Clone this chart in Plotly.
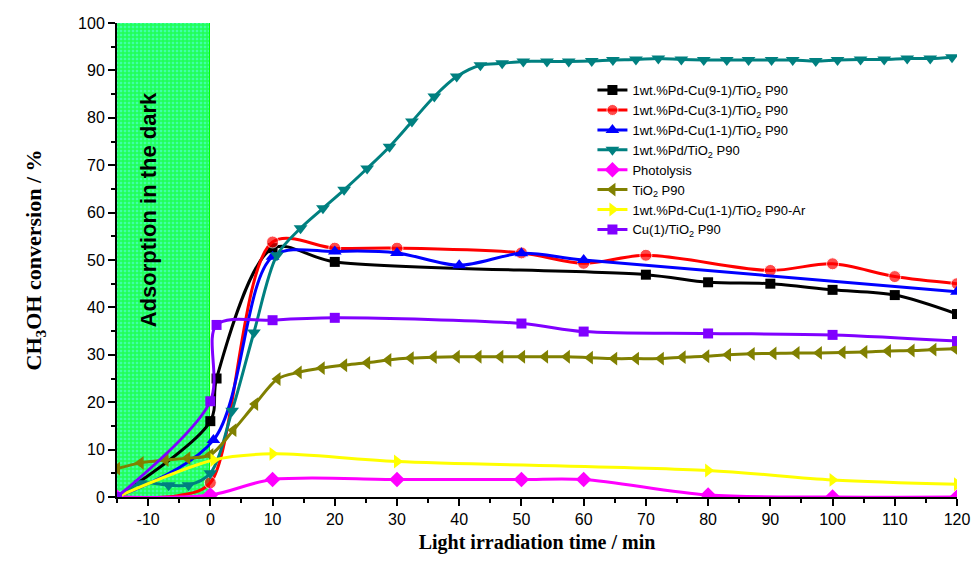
import plotly.graph_objects as go

# ---- data ----
names = [
    "1wt.%Pd-Cu(9-1)/TiO<sub>2</sub> P90",
    "1wt.%Pd-Cu(3-1)/TiO<sub>2</sub> P90",
    "1wt.%Pd-Cu(1-1)/TiO<sub>2</sub> P90",
    "1wt.%Pd/TiO<sub>2</sub> P90",
    "Photolysis",
    "TiO<sub>2</sub> P90",
    "1wt.%Pd-Cu(1-1)/TiO<sub>2</sub> P90-Ar",
    "Cu(1)/TiO<sub>2</sub> P90",
]

pdcu91_x = [-15, 0, 1, 10, 20, 70, 80, 90, 100, 110, 120]
pdcu91_y = [0, 16.0, 25.0, 52.5, 49.6, 46.9, 45.3, 45.0, 43.7, 42.6, 38.6]

pdcu31_x = [-15, -5, 0, 10, 20, 30, 50, 60, 70, 90, 100, 110, 120]
pdcu31_y = [0, 0.3, 3.0, 53.8, 52.5, 52.5, 51.5, 49.3, 51.0, 47.8, 49.2, 46.5, 45.0]
pdcu31_ms = [12, 0, 12, 12, 12, 12, 12, 12, 12, 12, 12, 12, 12]

pdcu11_x = [-15, 0.5, 10, 20, 30, 40, 50, 60, 120]
pdcu11_y = [0, 12.0, 50.7, 51.8, 51.5, 48.9, 51.4, 50.0, 43.3]

pd_x = [-15, -11.2, -6.7, -3.5, 0, 3.5, 7.0, 10.7, 14.5, 18.1, 21.5, 25.2, 28.8,
        32.4, 36.0, 39.6, 43.4, 46.9, 50.3, 54.1, 57.6, 61.3, 64.7, 68.4, 72.0,
        75.7, 79.3, 83.0, 86.5, 90.2, 93.6, 97.3, 100.8, 104.5, 108.3, 112.0,
        115.7, 119.2]
pd_y = [0, 2.9, 2.5, 2.5, 5.0, 18.2, 34.7, 51.0, 56.7, 60.9, 64.8, 69.3, 73.9,
        79.2, 84.5, 88.7, 91.1, 91.5, 91.9, 91.9, 91.9, 92.0, 92.2, 92.3, 92.5,
        92.3, 92.2, 92.2, 92.2, 92.2, 92.2, 92.0, 92.2, 92.3, 92.3, 92.5, 92.5,
        92.8]

photo_x = [-15, 0, 10, 30, 50, 60, 80, 100, 120]
photo_y = [0, 0.4, 3.7, 3.7, 3.7, 3.7, 0.4, 0.0, 0.0]

tio2_x = [-15, -11.2, -7.2, -3.7, 0, 3.7, 7.2, 10.8, 14.2, 17.9, 21.5, 25.2,
          28.6, 32.2, 35.9, 39.6, 43.1, 46.6, 50.1, 53.8, 57.3, 61.0, 64.9,
          68.4, 72.4, 75.9, 79.7, 83.2, 87.0, 90.5, 94.2, 97.8, 101.6, 105.1,
          108.9, 112.7, 116.2, 119.7]
tio2_y = [6.0, 7.2, 7.8, 8.2, 8.9, 14.1, 19.6, 24.9, 26.3, 27.2, 27.8, 28.3,
          28.9, 29.3, 29.5, 29.6, 29.6, 29.6, 29.6, 29.6, 29.6, 29.4, 29.2,
          29.2, 29.2, 29.5, 29.7, 30.0, 30.2, 30.3, 30.4, 30.4, 30.5, 30.6,
          30.8, 30.9, 31.1, 31.3]

ar_x = [-15, 0.5, 10, 30, 80, 100, 120]
ar_y = [0, 7.8, 9.1, 7.5, 5.6, 3.6, 2.7]

cu_x = [-15, 0, 1, 10, 20, 50, 60, 80, 100, 120]
cu_y = [0, 20.2, 36.3, 37.3, 37.8, 36.6, 34.9, 34.5, 34.2, 32.9]

xs = [pdcu91_x, pdcu31_x, pdcu11_x, pd_x, photo_x, tio2_x, ar_x, cu_x]
ys = [pdcu91_y, pdcu31_y, pdcu11_y, pd_y, photo_y, tio2_y, ar_y, cu_y]
colors = ["#000000", "#ff0000", "#0000ff", "#008080", "#ff00ff", "#808000",
          "#ffff00", "#8000ff"]
symbols = ["square", "circle", "triangle-up", "triangle-down", "diamond",
           "triangle-left", "triangle-right", "square"]
msizes = [10, pdcu31_ms, 12, 12, 12, 12, 12, 10]

x_ticks = [-10, 0, 10, 20, 30, 40, 50, 60, 70, 80, 90, 100, 110, 120]
y_ticks = [0, 10, 20, 30, 40, 50, 60, 70, 80, 90, 100]

fig = go.Figure()

# dark adsorption region (patterned green block)
fig.add_trace(go.Bar(
    x=[-7.5], y=[100], width=[15], showlegend=False, hoverinfo="skip",
    marker=dict(color="#00ff00", line=dict(color="#00ff00", width=1),
                pattern=dict(shape="+", fgcolor="#00ff00", bgcolor="#40ffa8",
                             size=4, solidity=0.6)),
))

for n, x, y, c, s, ms in zip(names, xs, ys, colors, symbols, msizes):
    fig.add_trace(go.Scatter(
        x=x, y=y, name=n, mode="lines+markers",
        line=dict(color=c, width=3, shape="spline", smoothing=0.9),
        marker=dict(symbol=s, size=ms, color=c),
    ))

fig.add_annotation(
    x=-10, y=60.5, xref="x", yref="y", text="<b>Adsorption in the dark</b>",
    textangle=-90, showarrow=False,
    font=dict(family="Liberation Sans, Arial", size=22, color="#000000"),
)

fig.update_layout(
    width=973, height=569,
    margin=dict(l=117, r=16, t=23, b=72),
    plot_bgcolor="white", paper_bgcolor="white",
    barmode="overlay", bargap=0,
    font=dict(family="Liberation Sans, Arial", size=16, color="#000000"),
    showlegend=True,
    legend=dict(
        x=0.566, y=0.89, xanchor="left", yanchor="top",
        bgcolor="rgba(0,0,0,0)", borderwidth=0, tracegroupgap=0,
        font=dict(family="Liberation Sans, Arial", size=13, color="#000000"),
        itemwidth=30,
    ),
    xaxis=dict(
        range=[-15, 120], tickmode="array", tickvals=x_ticks,
        ticktext=[str(v) for v in x_ticks], automargin=False,
        showgrid=False, zeroline=False, showline=True, linecolor="black",
        linewidth=2, ticks="outside", ticklen=7, tickwidth=2,
        tickcolor="black",
        minor=dict(ticks="outside", ticklen=4, tickwidth=2, dtick=5,
                   tick0=-15, tickcolor="black"),
        title=dict(text="<b>Light irradiation time / min</b>",
                   font=dict(family="Liberation Serif, Times New Roman",
                             size=20), standoff=8),
    ),
    yaxis=dict(
        range=[0, 100], tickmode="array", tickvals=y_ticks,
        ticktext=[str(v) for v in y_ticks], automargin=False,
        showgrid=False, zeroline=False, showline=True, linecolor="black",
        linewidth=2, ticks="outside", ticklen=7, tickwidth=2,
        tickcolor="black",
        minor=dict(ticks="outside", ticklen=4, tickwidth=2, dtick=5,
                   tick0=0, tickcolor="black"),
        title=dict(text="<b>CH<sub>3</sub>OH conversion / %</b>",
                   font=dict(family="Liberation Serif, Times New Roman",
                             size=22), standoff=30),
    ),
)

fig.write_html("out.html")
